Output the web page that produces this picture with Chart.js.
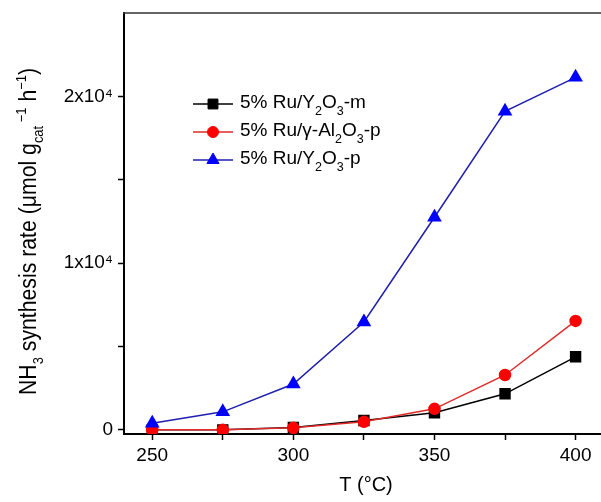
<!DOCTYPE html>
<html><head><meta charset="utf-8">
<script src="https://cdn.jsdelivr.net/npm/chart.js@4.4.0/dist/chart.umd.min.js"></script>
<style>html,body{margin:0;padding:0;background:#fff;overflow:hidden}canvas{display:block}</style>
</head><body>
<canvas id="c" width="601" height="502"></canvas>
<script>
// ---- data ----
const temperatures = [250, 275, 300, 325, 350, 375, 400];
const ruY2O3m  = [0, 0, 140, 560, 1020, 2160, 4380];
const ruAl2O3p = [0, 0, 120, 480, 1260, 3290, 6530];
const ruY2O3p  = [400, 1080, 2750, 6470, 12750, 19100, 21140];
const seriesLabels = ['5% Ru/Y₂O₃-m', '5% Ru/γ-Al₂O₃-p', '5% Ru/Y₂O₃-p'];
const xTickValues = [250, 275, 300, 325, 350, 375, 400];
const xTickLabels = ['250', '', '300', '', '350', '', '400'];
const yTickValues = [0, 5000, 10000, 15000, 20000];
const yTickLabels = ['0', '', '1x10⁴', '', '2x10⁴'];
const xAxisTitle = 'T (°C)';
const yAxisTitle = [['NH','n'],['3','sub'],[' synthesis rate (μmol g','n'],['cat','sub'],[' −1','sup'],[' h','n'],['−1','sup'],[')','n']];

const FONT = '"Liberation Sans", Arial, sans-serif';
const toPts = arr => arr.map((v, i) => ({x: temperatures[i], y: v}));

const subMap = {'₀':'0','₁':'1','₂':'2','₃':'3','₄':'4','₅':'5','₆':'6','₇':'7','₈':'8','₉':'9'};
function parseLabel(s) {
  const parts = [];
  for (const ch of s) {
    const t = subMap[ch] !== undefined ? 'sub' : 'n';
    const c = subMap[ch] !== undefined ? subMap[ch] : ch;
    if (parts.length && parts[parts.length-1][1] === t) parts[parts.length-1][0] += c;
    else parts.push([c, t]);
  }
  return parts;
}
function richWidth(ctx, parts, size, small) {
  let w = 0;
  for (const [t, k] of parts) {
    ctx.font = (k === 'n' ? size : small) + 'px ' + FONT;
    w += ctx.measureText(t).width;
  }
  return w;
}
function drawRich(ctx, parts, x, y, size, small, subOff, supOff) {
  for (const [t, k] of parts) {
    ctx.font = (k === 'n' ? size : small) + 'px ' + FONT;
    const dy = k === 'sub' ? subOff : (k === 'sup' ? -supOff : 0);
    ctx.fillText(t, x, y + dy);
    x += ctx.measureText(t).width;
  }
}

const framePlugin = {
  id: 'frame',
  afterDraw(chart) {
    const ctx = chart.ctx, a = chart.chartArea;
    ctx.save();
    // top frame line
    ctx.strokeStyle = '#333';
    ctx.lineWidth = 1.5;
    ctx.beginPath();
    ctx.moveTo(a.left - 1, a.top);
    ctx.lineTo(a.right, a.top);
    ctx.stroke();

    // legend
    const baselines = [108, 136, 164];
    chart.data.datasets.forEach((ds, i) => {
      const yb = baselines[i], yl = yb - 4;
      ctx.strokeStyle = ds.borderColor;
      ctx.lineWidth = 1.5;
      ctx.beginPath();
      ctx.moveTo(193, yl); ctx.lineTo(233, yl); ctx.stroke();
      ctx.fillStyle = ds.pointBackgroundColor;
      ctx.strokeStyle = ds.pointBackgroundColor;
      ctx.lineWidth = 1;
      Chart.helpers.drawPoint(ctx, {pointStyle: ds.pointStyle, radius: ds.pointRadius, rotation: 0, borderWidth: 1}, 213, yl);
      ctx.fillStyle = '#000';
      ctx.textBaseline = 'alphabetic';
      ctx.textAlign = 'left';
      drawRich(ctx, parseLabel(ds.label), 240, yb, 19, 12.5, 7, 8);
    });

    // x axis title
    ctx.fillStyle = '#000';
    ctx.font = '20px ' + FONT;
    ctx.textAlign = 'center';
    ctx.textBaseline = 'alphabetic';
    ctx.fillText(xAxisTitle, 366, 491);

    // y axis title (rotated)
    ctx.textAlign = 'left';
    const w = richWidth(ctx, yAxisTitle, 23, 14);
    ctx.translate(36, 231.5);
    ctx.rotate(-Math.PI / 2);
    ctx.scale(327 / w, 1);
    drawRich(ctx, yAxisTitle, -w / 2, 0, 23, 14, 7, 10);
    ctx.restore();
  }
};

new Chart(document.getElementById('c'), {
  type: 'line',
  data: {
    datasets: [
      {label: seriesLabels[0], data: toPts(ruY2O3m), borderColor: '#000000', pointBackgroundColor: '#000000', pointBorderColor: '#000000',
       pointStyle: 'rect', pointRadius: 7, borderWidth: 1.5, order: 2},
      {label: seriesLabels[1], data: toPts(ruAl2O3p), borderColor: '#e02a2a', pointBackgroundColor: '#ff0000', pointBorderColor: '#ff0000',
       pointStyle: 'circle', pointRadius: 5.5, borderWidth: 1.5, order: 1},
      {label: seriesLabels[2], data: toPts(ruY2O3p), borderColor: '#1f1fb0', pointBackgroundColor: '#0000ff', pointBorderColor: '#0000ff',
       pointStyle: 'triangle', pointRadius: 7, borderWidth: 1.5, order: 0}
    ]
  },
  options: {
    responsive: false,
    animation: false,
    layout: {autoPadding: false, padding: {top: 13, right: 0, left: 0, bottom: 0}},
    plugins: {legend: {display: false}, tooltip: {enabled: false}},
    elements: {line: {tension: 0}, point: {borderWidth: 1}},
    scales: {
      x: {
        type: 'linear', min: 240, max: 409,
        afterBuildTicks: s => { s.ticks = xTickValues.map(v => ({value: v})); },
        afterFit: s => { s.height = 68; s.paddingLeft = 0; s.paddingRight = 0; },
        ticks: {
          callback: (v) => xTickLabels[xTickValues.indexOf(v)] ?? '',
          font: {family: FONT, size: 19}, color: '#000', padding: 4, maxRotation: 0, autoSkip: false
        },
        grid: {drawOnChartArea: false, drawTicks: true, tickLength: 6, tickColor: '#000', tickWidth: 1.5},
        border: {display: true, color: '#000', width: 2}
      },
      y: {
        min: -250, max: 25000,
        afterBuildTicks: s => { s.ticks = yTickValues.map(v => ({value: v})); },
        afterFit: s => { s.width = 124; s.paddingTop = 0; s.paddingBottom = 0; },
        ticks: {
          callback: (v) => yTickLabels[yTickValues.indexOf(v)] ?? '',
          font: {family: FONT, size: 19}, color: '#000', padding: 5, autoSkip: false
        },
        grid: {drawOnChartArea: false, drawTicks: true, tickLength: 6, tickColor: '#000', tickWidth: 1.5},
        border: {display: true, color: '#000', width: 2}
      }
    }
  },
  plugins: [framePlugin]
});
</script>
</body></html>
